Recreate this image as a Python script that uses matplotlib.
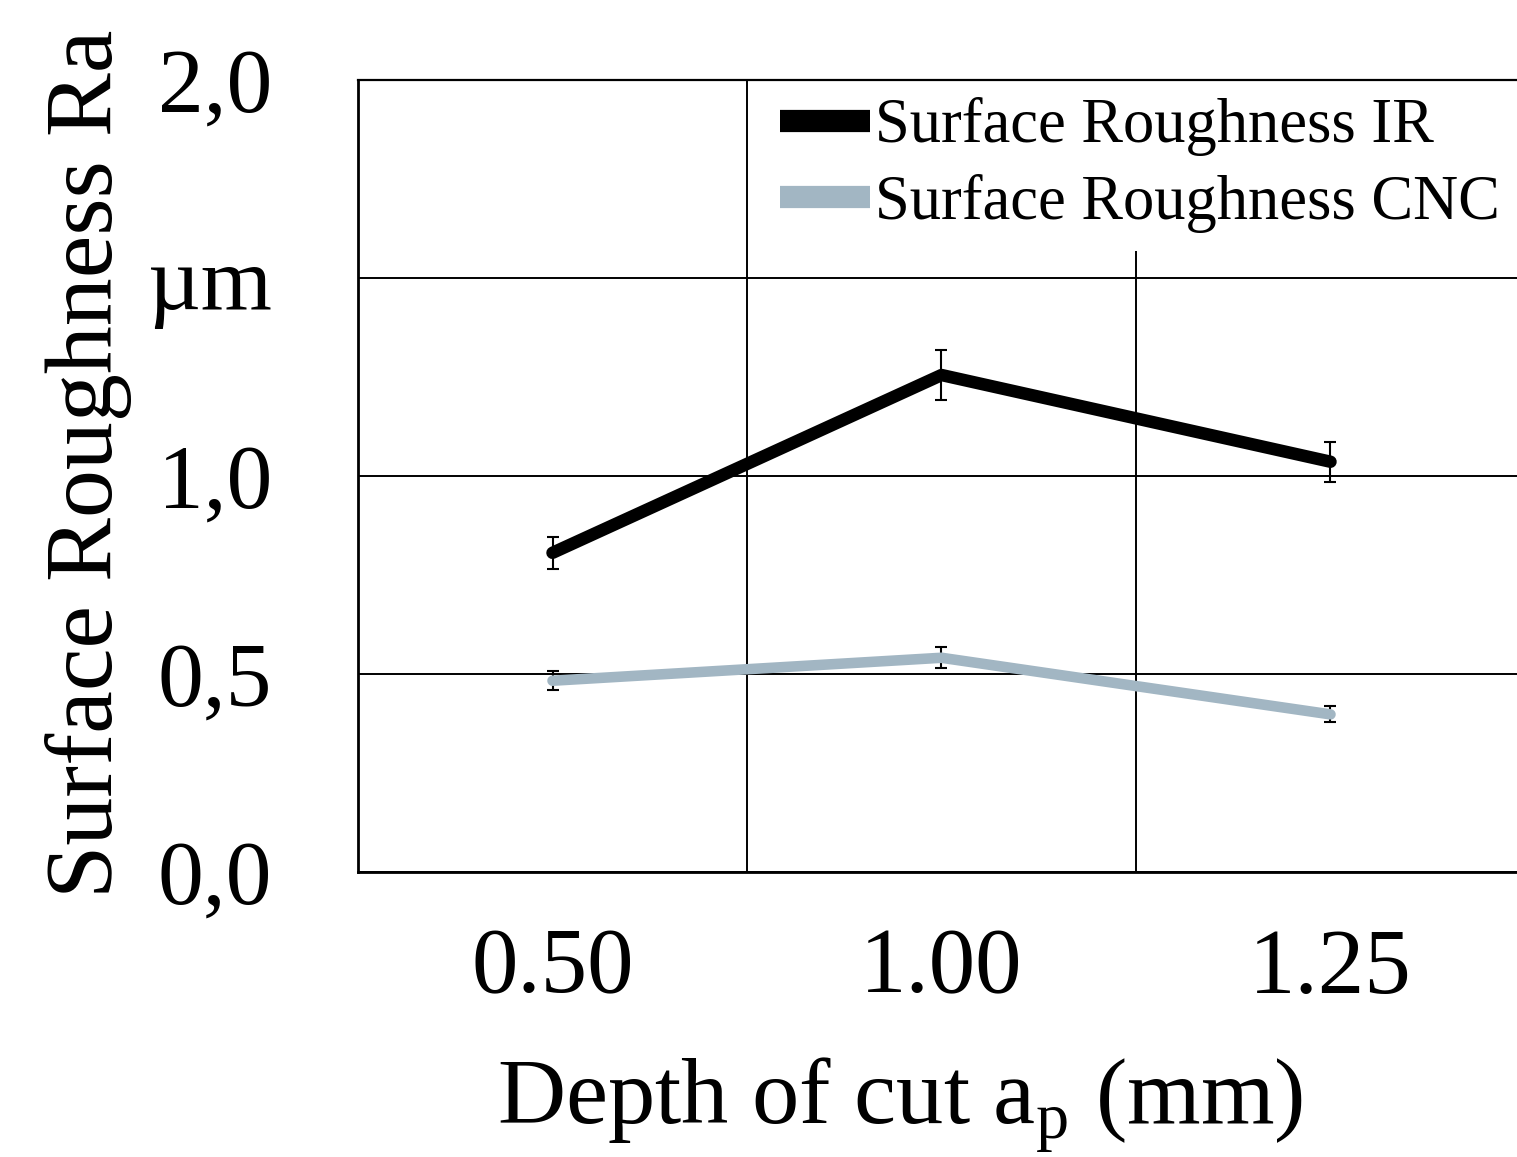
import matplotlib
matplotlib.use('Agg')
from matplotlib import pyplot as plt
from matplotlib.lines import Line2D

# --- DATA ------------------------------------------------------------+
depth_labels = ['0.50', '1.00', '1.25']
ra_ir = [0.806, 1.255, 1.036]
ra_ir_err = [0.040, 0.062, 0.050]
ra_cnc = [0.483, 0.541, 0.398]
ra_cnc_err = [0.024, 0.027, 0.020]
series_names = ['Surface Roughness IR', 'Surface Roughness CNC']
y_ticks = [0.0, 0.5, 1.0, 1.5, 2.0]
y_tick_labels = ['0,0', '0,5', '1,0', 'µm', '2,0']

ir_color = 'black'
cnc_color = '#a2b6c3'

plt.rcParams['font.family'] = ['Liberation Serif', 'DejaVu Serif']
plt.rcParams['mathtext.fontset'] = 'custom'
plt.rcParams['mathtext.rm'] = 'Liberation Serif'

fig = plt.figure(figsize=(15.17, 11.57), dpi=100)
ax = fig.add_axes([358 / 1517, 285 / 1157, 1167 / 1517, 792 / 1157])

xs = list(range(len(depth_labels)))

# error bars first, lines on top
ax.errorbar(xs, ra_ir, yerr=ra_ir_err, fmt='none', ecolor='black',
            elinewidth=1.5, capsize=4.5, capthick=1.5, zorder=3)
ax.errorbar(xs, ra_cnc, yerr=ra_cnc_err, fmt='none', ecolor='black',
            elinewidth=1.5, capsize=4.5, capthick=1.5, zorder=3)
ax.plot(xs, ra_ir, color=ir_color, lw=9, solid_capstyle='round',
        solid_joinstyle='round', zorder=4)
ax.plot(xs, ra_cnc, color=cnc_color, lw=7.6, solid_capstyle='round',
        solid_joinstyle='round', zorder=4)

ax.set_xlim(-0.5, len(depth_labels) - 0.5)
ax.set_ylim(0, 2.0)

# grid
ax.set_axisbelow(True)
ax.set_yticks(y_ticks)
ax.set_yticklabels(y_tick_labels)
ax.set_xticks(xs)
ax.set_xticklabels(depth_labels)
ax.set_xticks([0.5, 1.5], minor=True)
ax.grid(axis='y', which='major', color='black', lw=1.4)
ax.grid(axis='x', which='minor', color='black', lw=1.4)
ax.tick_params(axis='both', which='both', length=0)
ax.tick_params(axis='y', labelsize=66, pad=62)
ax.tick_params(axis='x', labelsize=67, pad=40)

for side in ['left', 'bottom']:
    ax.spines[side].set_linewidth(2.0)
ax.spines['top'].set_linewidth(1.6)
ax.spines['top'].set_zorder(6)
ax.spines['right'].set_visible(False)

ax.set_ylabel('Surface Roughness Ra', fontsize=69)
ax.yaxis.set_label_coords(-0.194, 0.515)
ax.set_xlabel(r'Depth of cut a$_\mathregular{p}$ (mm)', fontsize=68)
ax.xaxis.set_label_coords(0.4644, -0.232)

handles = [Line2D([], [], color=ir_color, lw=16, solid_capstyle='butt'),
           Line2D([], [], color=cnc_color, lw=16, solid_capstyle='butt')]
leg = ax.legend(handles, series_names, loc='upper left',
                bbox_to_anchor=(762 / 1517, 1 - 80 / 1157),
                bbox_transform=fig.transFigure, fontsize=45,
                handlelength=1.45, handletextpad=0.08, labelspacing=0.28,
                borderpad=0.28, borderaxespad=0, frameon=True,
                fancybox=False, framealpha=1)
leg.get_frame().set_edgecolor('none')
leg.get_frame().set_facecolor('white')

plt.savefig('out.png', dpi=100)
